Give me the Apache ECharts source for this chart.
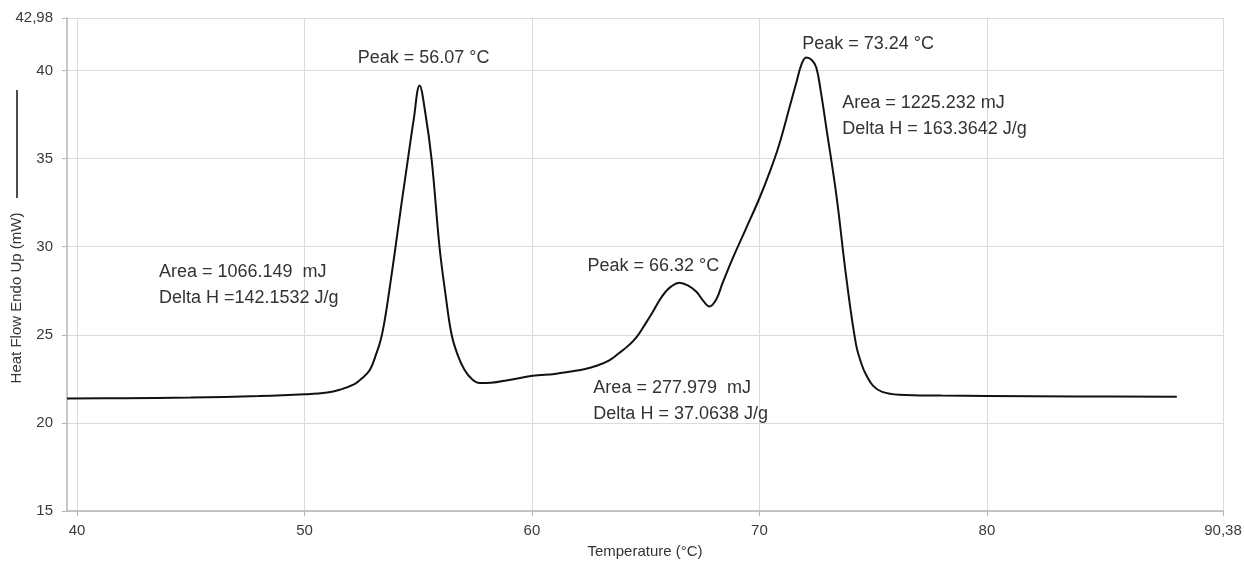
<!DOCTYPE html>
<html>
<head>
<meta charset="utf-8">
<title>DSC curve</title>
<script src="https://cdn.jsdelivr.net/npm/echarts@6.0.0/dist/echarts.min.js"></script>
<style>
  html, body { margin: 0; padding: 0; background: #fff; }
  #chart { width: 1244px; height: 563px; }
</style>
</head>
<body>
<div id="chart"></div>
<script>
// heat flow curve
var temps = [39.56, 42, 45, 48, 50, 51, 51.55, 52.2, 52.5, 52.87, 53.15, 53.35, 53.55, 53.75, 53.95, 54.25, 54.54, 54.8, 55.06,
  55.3, 55.59, 55.94, 56.2, 56.47, 56.75, 57.04, 57.35, 57.7, 58.2, 59.0, 60.03, 61.0, 61.65, 62.3, 62.84,
  63.4, 63.85, 64.25, 64.59, 65.0, 65.29, 65.6, 65.85, 66.1, 66.48, 66.85, 67.23, 67.55, 67.8, 68.1, 68.37, 68.81, 69.4,
  70.0, 70.5, 70.87, 71.3, 71.62, 71.85, 72.06, 72.3, 72.5, 72.7, 72.94, 73.38, 73.82, 74.25, 74.5, 74.69, 75.0,
  75.4, 76.14, 78, 80, 84, 88.35];
var heatFlow = [21.38, 21.40, 21.44, 21.52, 21.62, 21.72, 21.88, 22.2, 22.5, 23.0, 23.9, 24.7, 26.0, 27.7, 29.5, 32.3, 34.9, 37.2, 39.15,
  37.7, 34.94, 29.94, 27.3, 25.0, 23.8, 23.0, 22.5, 22.27, 22.28, 22.44, 22.67, 22.78, 22.9, 23.05, 23.24,
  23.55, 23.98, 24.4, 24.85, 25.65, 26.25, 26.95, 27.4, 27.72, 27.95, 27.8, 27.44, 26.9, 26.6, 27.0, 27.9, 29.3, 31.0,
  32.75, 34.4, 35.8, 37.8, 39.3, 40.35, 40.74, 40.6, 40.17, 38.8, 36.76, 32.95, 28.24, 24.43, 23.3, 22.73, 22.1,
  21.76, 21.6, 21.55, 21.53, 21.5, 21.48];

var xTicks = [40, 50, 60, 70, 80, 90.38];
var yTicks = [15, 20, 25, 30, 35, 40, 42.98];
var xMin = 39.56, xMax = 90.38;
var yMin = 15, yMax = 42.98;

// annotation texts and where they sit (data coords, left edge / vertical middle)
var noteTexts = ['Peak = 56.07 °C', 'Peak = 73.24 °C', 'Area = 1225.232 mJ\nDelta H = 163.3642 J/g',
  'Area = 1066.149  mJ\nDelta H =142.1532 J/g', 'Peak = 66.32 °C', 'Area = 277.979  mJ\nDelta H = 37.0638 J/g'];
var noteX = [52.34, 71.88, 73.64, 43.6, 62.44, 62.7];
var noteY = [40.7, 41.5, 37.39, 27.81, 28.92, 21.25];

var pts = [];
for (var i = 0; i < temps.length; i++) pts.push([temps[i], heatFlow[i]]);

var notes = [];
for (var j = 0; j < noteTexts.length; j++) {
  notes.push({ coord: [noteX[j], noteY[j]], value: noteTexts[j] });
}

function commaFmt(v) { return String(v).replace('.', ','); }

var font = 'Liberation Sans, Arial, sans-serif';

var chart = echarts.init(document.getElementById('chart'), null, { renderer: 'canvas' });
chart.setOption({
  backgroundColor: '#fff',
  animation: false,
  grid: { left: 67, right: 21, top: 18, bottom: 52, containLabel: false, outerBoundsMode: 'none' },
  xAxis: {
    type: 'value', min: xMin, max: xMax,
    name: 'Temperature (°C)', nameLocation: 'middle', nameGap: 33,
    nameTextStyle: { fontFamily: font, fontSize: 15, color: '#333' },
    axisLine: { show: true, lineStyle: { color: '#b5b5b5', width: 1.5 } },
    axisTick: { show: true, length: 5, customValues: xTicks, lineStyle: { color: '#b5b5b5' } },
    axisLabel: { customValues: xTicks, margin: 12, fontFamily: font, fontSize: 15, color: '#3a3a3a', formatter: commaFmt },
    splitLine: { show: true, lineStyle: { color: '#dcdcdc', width: 1 } }
  },
  yAxis: {
    type: 'value', min: yMin, max: yMax,
    axisLine: { show: true, lineStyle: { color: '#b5b5b5', width: 1.5 } },
    axisTick: { show: true, length: 5, customValues: yTicks, lineStyle: { color: '#b5b5b5' } },
    axisLabel: { customValues: yTicks, margin: 14, fontFamily: font, fontSize: 15, color: '#3a3a3a', formatter: commaFmt },
    splitLine: { show: true, lineStyle: { color: '#dcdcdc', width: 1 } }
  },
  graphic: [
    { type: 'line', shape: { x1: 17, y1: 90, x2: 17, y2: 198 }, style: { stroke: '#111', lineWidth: 1.5 } },
    { type: 'text', x: 17, y: 298, rotation: Math.PI / 2,
      style: { text: 'Heat Flow Endo Up (mW)', font: '15px ' + font, fill: '#333', align: 'center', verticalAlign: 'middle' } }
  ],
  series: [{
    type: 'line',
    data: pts,
    smooth: 0.4,
    showSymbol: false,
    lineStyle: { color: '#111', width: 2 },
    markPoint: {
      symbol: 'circle', symbolSize: 0,
      label: {
        show: true, position: 'inside', align: 'left', verticalAlign: 'middle',
        fontFamily: font, fontSize: 18, lineHeight: 26, color: '#333',
        formatter: function (p) { return p.value; }
      },
      data: notes
    }
  }]
});
</script>
</body>
</html>
